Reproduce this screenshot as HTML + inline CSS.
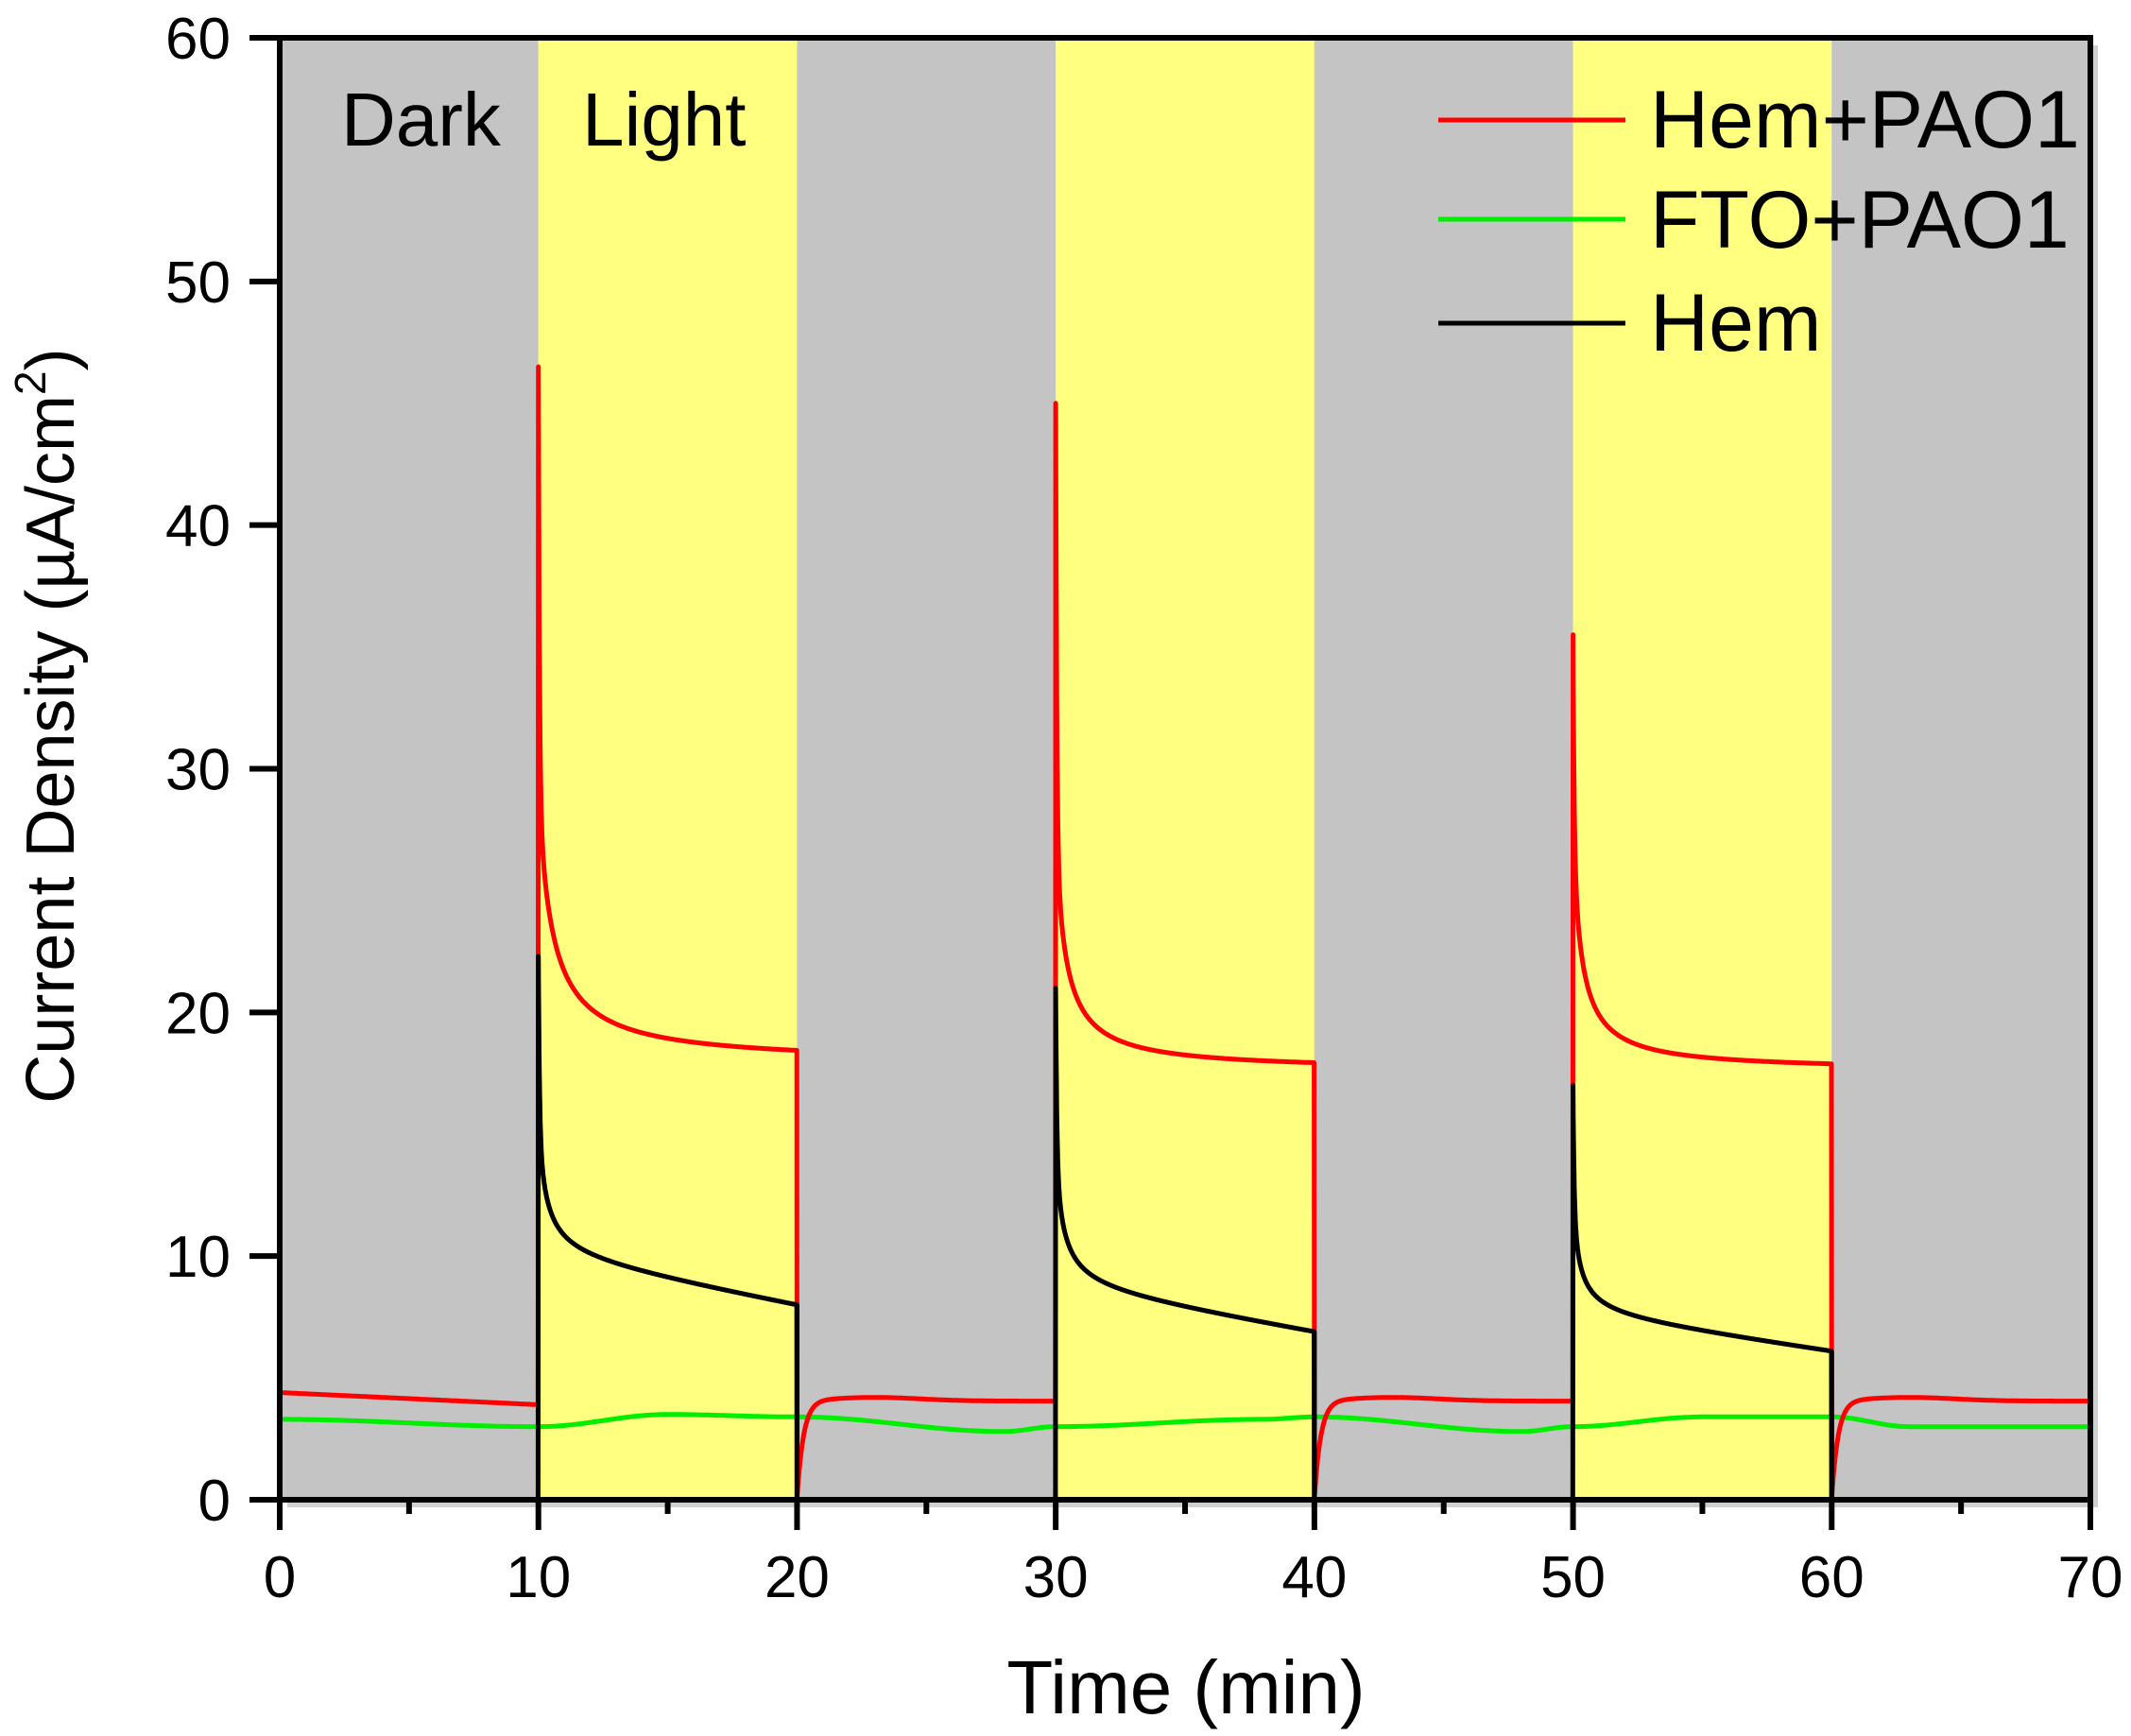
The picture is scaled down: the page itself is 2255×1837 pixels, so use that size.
<!DOCTYPE html>
<html><head><meta charset="utf-8"><style>
html,body{margin:0;padding:0;background:#fff;}
svg{display:block;font-family:"Liberation Sans",Arial,sans-serif;}
</style></head><body>
<svg id="s" width="2255" height="1837" viewBox="0 0 2255 1837" xmlns="http://www.w3.org/2000/svg">
<g id="bg"></g>
<g id="series"></g>
<g id="axes"></g>
<text x="361" y="154" font-size="80">Dark</text>
<text x="616" y="154" font-size="80">Light</text>
<line x1="1522" y1="127" x2="1720" y2="127" stroke="#ff0000" stroke-width="5"/>
<line x1="1522" y1="232" x2="1720" y2="232" stroke="#00ee00" stroke-width="5"/>
<line x1="1522" y1="342" x2="1720" y2="342" stroke="#000" stroke-width="5"/>
<text x="1746" y="156" font-size="86">Hem+PAO1</text>
<text x="1746" y="262" font-size="86">FTO+PAO1</text>
<text x="1746" y="371" font-size="86">Hem</text>
<text x="1255" y="1813" font-size="80" text-anchor="middle">Time (min)</text>
<text transform="translate(78,768) rotate(-90)" font-size="72" text-anchor="middle">Current Density (µA/cm<tspan font-size="46" dy="-30">2</tspan><tspan dy="30">)</tspan></text>
</svg>
<script>
var X0=296,X1=2212,Y0=1587,Y1=40;
function X(t){return X0+(X1-X0)*t/70;}
function Y(v){return Y0+(Y1-Y0)*v/60;}
var ns="http://www.w3.org/2000/svg",bg=document.getElementById('bg'),se=document.getElementById('series'),ax=document.getElementById('axes');
function el(p,tag,a){var e=document.createElementNS(ns,tag);for(var k in a)e.setAttribute(k,a[k]);p.appendChild(e);return e;}
el(bg,'rect',{x:X0+8,y:Y1+8,width:X1-X0,height:Y0-Y1,fill:'#d0d0d0'});
for(var i=0;i<7;i++){el(bg,'rect',{x:X(i*10),y:Y1,width:X((i+1)*10)-X(i*10),height:Y0-Y1,fill:(i%2?'#ffff80':'#c4c4c4')});}
function path(f,col,w){var d='';for(var i=0;i<=7000;i++){var t=i/100;var v=f(t);d+=(d?'L':'M')+X(t).toFixed(1)+' '+Y(v).toFixed(1);}el(se,'path',{d:d,fill:'none',stroke:col,'stroke-width':w,'stroke-linejoin':'round'});}
function dark(dt,base){return base-base*Math.exp(-dt/0.25)+0.15*Math.exp(-Math.pow((dt-3)/2.5,2));}
var red=[[46.5,17.9,11.4,0.5],[45,17.6,10,0.35],[35.5,17.6,10,0.3]];
function fr(t){
 if(t<10)return 4.4-0.05*t;
 var c=Math.min(6,Math.floor(t/10+1e-9));
 var dt=t-c*10;
 if(c%2==1){var p=red[(c-1)/2];var base=p[1]+p[2]*Math.pow(1+dt/p[3],-1);
   return base+(p[0]-(p[1]+p[2]))*Math.exp(-dt/0.04);}
 return dark(dt,4.05);
}
var blk=[[22.3,8,6,0.25,2.0],[21,6.9,6,0.25,1.8],[17,6.1,5,0.22,1.5]];
function fb(t){
 if(t<10)return 0;
 var c=Math.min(6,Math.floor(t/10+1e-9));
 if(c%2==1){var p=blk[(c-1)/2];var dt=t-c*10;
   var base=p[1]+p[4]*(1-dt/10)+p[2]*Math.pow(1+dt/p[3],-1)-p[2]*Math.pow(1+10/p[3],-1);
   var b0=p[1]+p[4]+p[2]-p[2]*Math.pow(1+10/p[3],-1);
   return base+(p[0]-b0)*Math.exp(-dt/0.04);}
 return 0;
}
var gk=[[0,3.3],[10,3.0],[15,3.5],[20,3.4],[28,2.8],[30,3.0],[38,3.3],[40,3.4],[48,2.8],[50,3.0],[55,3.4],[60,3.4],[63,3.0],[70,3.0]];
function fg(t){for(var i=0;i<gk.length-1;i++){if(t<=gk[i+1][0]){var a=gk[i],b=gk[i+1];var u=(t-a[0])/(b[0]-a[0]);u=(1-Math.cos(Math.PI*u))/2;return a[1]+(b[1]-a[1])*u;}}return 3.0;}
path(fg,'#00ee00',5);
path(fr,'#ff0000',5);
path(fb,'#000000',5);
[20,40,60].forEach(function(t,i){el(se,'line',{x1:X(t),y1:Y([8,6.9,6.1][i]),x2:X(t),y2:Y0,stroke:'#000','stroke-width':5});});
el(ax,'rect',{x:X0,y:Y1,width:X1-X0,height:Y0-Y1,fill:'none',stroke:'#000','stroke-width':6});
for(var t=0;t<=70;t+=5){var maj=t%10==0;el(ax,'line',{x1:X(t),y1:Y0,x2:X(t),y2:Y0+(maj?32:15),stroke:'#000','stroke-width':6});
 if(maj){var tx=el(ax,'text',{x:X(t),y:1690,'font-size':62,'text-anchor':'middle'});tx.textContent=t;}}
for(var v=0;v<=60;v+=10){el(ax,'line',{x1:X0-32,y1:Y(v),x2:X0,y2:Y(v),stroke:'#000','stroke-width':6});
 var ty=el(ax,'text',{x:244,y:Y(v)+22,'font-size':62,'text-anchor':'end'});ty.textContent=v;}
</script>
</body></html>
